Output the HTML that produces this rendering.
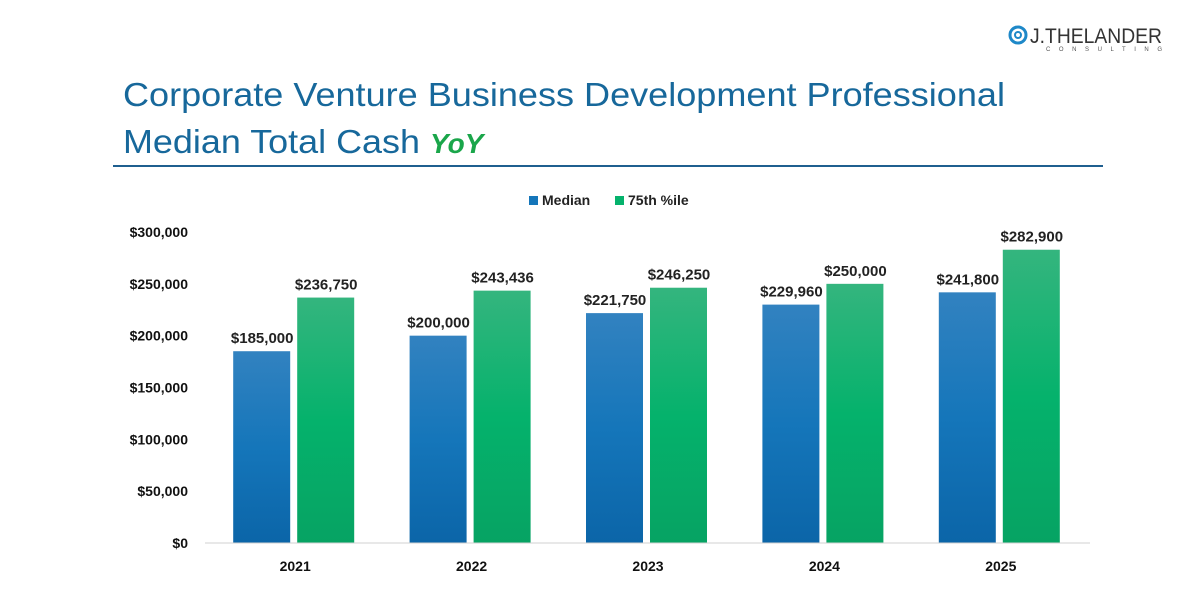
<!DOCTYPE html>
<html><head><meta charset="utf-8"><style>
body{margin:0;background:#fff;}
svg{display:block;font-family:"Liberation Sans",Arial,sans-serif;}
</style></head><body>
<svg id="chart" width="1184" height="598" viewBox="0 0 1184 598">
<defs>
<linearGradient id="gb" x1="0" y1="0" x2="0" y2="1"><stop offset="0" stop-color="#3282c0"/><stop offset="0.5" stop-color="#1576ba"/><stop offset="1" stop-color="#0b65a8"/></linearGradient>
<linearGradient id="gg" x1="0" y1="0" x2="0" y2="1"><stop offset="0" stop-color="#34b57e"/><stop offset="0.5" stop-color="#05b26c"/><stop offset="1" stop-color="#06a363"/></linearGradient>
</defs>
<g>
<circle cx="1018" cy="35" r="8" fill="none" stroke="#1e88c8" stroke-width="3"/>
<circle cx="1018" cy="35" r="3" fill="none" stroke="#1e88c8" stroke-width="2"/>
<text x="1030" y="43" font-size="21" fill="#333" textLength="132" lengthAdjust="spacingAndGlyphs">J.THELANDER</text>
<text x="1046" y="51" font-size="6" fill="#555" textLength="116" lengthAdjust="spacing">CONSULTING</text>
</g>
<text x="123" y="106" font-size="33" fill="#17689b" textLength="882" lengthAdjust="spacingAndGlyphs">Corporate Venture Business Development Professional</text>
<text x="123" y="153" font-size="33" fill="#17689b" textLength="297" lengthAdjust="spacingAndGlyphs">Median Total Cash</text>
<text x="430" y="153" font-size="28" font-weight="bold" font-style="italic" fill="#1aa64a">YoY</text>
<line x1="113" y1="166" x2="1103" y2="166" stroke="#1f5f8f" stroke-width="2"/>
<g font-size="14" font-weight="bold" fill="#222">
<rect x="529" y="196" width="9" height="9" fill="#1576ba"/><text x="542" y="205">Median</text>
<rect x="615" y="196" width="9" height="9" fill="#05b26c"/><text x="628" y="205">75th %ile</text>
</g>
<g id="yaxis"></g>
<g id="bars"></g>
<line x1="205" y1="543" x2="1090" y2="543" stroke="#d0d0d0" stroke-width="1"/>
</svg>
<script>
const categories=["2021","2022","2023","2024","2025"];
const medianValues=[185000,200000,221750,229960,241800];
const p75Values=[236750,243436,246250,250000,282900];
const yTicks=[0,50000,100000,150000,200000,250000,300000];
const NS="http://www.w3.org/2000/svg";
const y0=543,yTop=232,yMax=300000,xL=208,xR=1090;
const y=v=>y0-(v/yMax)*(y0-yTop);
const xc=i=>xL+(i+0.5)*(xR-xL)/categories.length;
const fmt=v=>"$"+v.toLocaleString("en-US");
function mk(tag,attrs,parent,txt){const e=document.createElementNS(NS,tag);for(const k in attrs)e.setAttribute(k,attrs[k]);if(txt!==undefined)e.textContent=txt;parent.appendChild(e);return e;}
const ya=document.getElementById("yaxis"),bg=document.getElementById("bars");
yTicks.forEach(t=>{const e=mk("text",{x:188,y:y(t)+5,"font-size":14,"font-weight":"bold","text-anchor":"end",fill:"#111"},ya,fmt(t));

});
categories.forEach((c,i)=>{const cx=xc(i);
const r1=mk("rect",{x:cx-63,y:y(medianValues[i]),width:57,height:y0-y(medianValues[i]),fill:"url(#gb)"},bg);


const r2=mk("rect",{x:cx+1,y:y(p75Values[i]),width:57,height:y0-y(p75Values[i]),fill:"url(#gg)"},bg);


const l1=mk("text",{x:cx-34,y:y(medianValues[i])-8,"font-size":15,"font-weight":"bold","text-anchor":"middle",fill:"#222"},bg,fmt(medianValues[i]));


const l2=mk("text",{x:cx+30,y:y(p75Values[i])-8,"font-size":15,"font-weight":"bold","text-anchor":"middle",fill:"#222"},bg,fmt(p75Values[i]));


const cl=mk("text",{x:cx-1,y:571,"font-size":14,"font-weight":"bold","text-anchor":"middle",fill:"#111"},bg,c);


});
</script>
</body></html>
